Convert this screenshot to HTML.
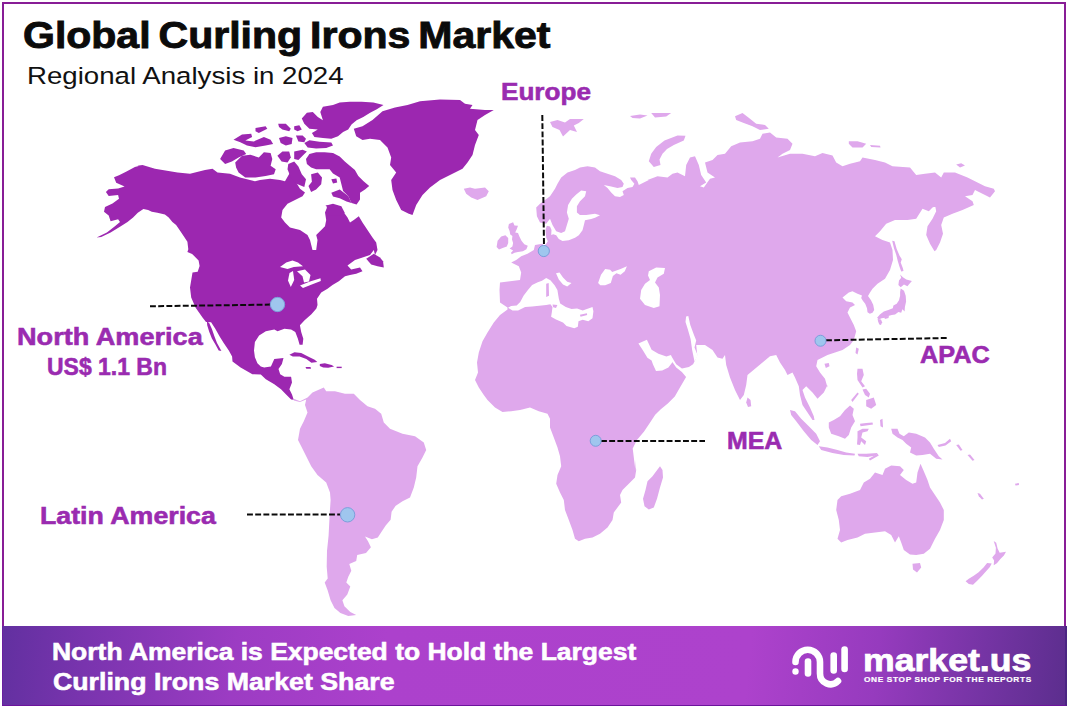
<!DOCTYPE html>
<html><head><meta charset="utf-8"><title>Global Curling Irons Market</title>
<style>
html,body{margin:0;padding:0;background:#fff;}
body{width:1068px;height:712px;position:relative;overflow:hidden;font-family:"Liberation Sans",sans-serif;}
#frame{position:absolute;left:2px;top:2px;width:1060px;height:699.7px;border:2px solid #881d96;box-sizing:content-box;}
#footer{position:absolute;left:2px;top:626px;width:1064.8px;height:79.7px;box-sizing:border-box;border-right:2.5px solid #4b2583;border-bottom:1.8px solid #6c149c;border-left:1.5px solid #6a1fa0;background:linear-gradient(96deg,#6230a0 0%,#7934ae 8%,#9c3cc3 22%,#ac41cc 36%,#ad42cc 70%,#963bbe 82%,#7534a4 92%,#5c2e8e 100%);}
svg{position:absolute;left:0;top:0;}
.tx{position:absolute;white-space:nowrap;line-height:1;transform-origin:0 0;}
#t12{letter-spacing:0.6px;}
#t1{word-spacing:-3px;}
</style></head><body>
<div id="frame"></div>
<svg width="1068" height="712" viewBox="0 0 1068 712">
<polygon points="293.8,398.8 300,401.2 307.5,397.5 312.5,392.5 323.8,387.5 326.2,391.2 335,391.2 345,393.8 353.8,393.8 360,400 367.5,406.2 375,408.8 381.2,413.8 383.8,422.5 390,428.8 402.5,433.8 415,436.2 423.8,442.5 426.2,450 422.5,457.5 417.5,466.2 416.2,477.5 413.8,487.5 410,497.5 402.5,501.2 395,506.2 395.5,505.9 391.6,511.8 390.6,519.7 385.7,525.6 381.7,531.5 377.8,537.4 371.9,539.3 365,536.4 368,541.3 370.9,547.2 366,553 357.2,555 356.2,561 349.3,563.9 351.3,570.8 348.3,576.7 346.3,582.6 350.3,586.5 347.3,594.4 342.4,600.3 344.4,606.2 350.3,612 356.2,615 348.3,616 340.4,613 334.5,608.1 330.6,600.3 327.7,590.4 324.7,582.6 327.7,578.6 326.7,566.8 327,551 328.6,535.4 329.6,515.7 330.6,500 330,492.5 326.2,482.5 317.5,475 311.2,466.2 306.2,456.2 301.2,446.2 298,440 300,428.8 303.8,421.2 307.5,412.5 305,405 306.2,399.5 300,402 293.8,400.5" fill="#dfa8ec"/>
<polygon points="507.5,307.5 500,302.5 499.5,290 500,282.5 510,281.2 520,280 521.2,272.5 518.8,266.2 511.2,262.5 516.2,260 521.2,256.2 527.5,253.8 533.8,250 535,245 542.5,243.8 543.8,246.2 546,244 547.8,241.2 546.2,237.5 545.5,230 546.8,225.8 550,226.5 551.5,230 551.2,235 553.2,234.2 556.2,235.2 558.8,239 562.5,240.9 568.8,240.2 575,237.8 578.8,235.2 582.5,230.2 583.8,225.2 585,220.2 591.2,219 595,217.8 600,215.2 595,213.8 586.2,215 580,215 576.9,212.5 576.9,206.2 580,201.2 585,196.2 586.2,191.2 581.2,190.6 576.2,194.4 571.9,198.8 568.1,205 566.9,212.5 568.8,218.8 566.9,225 565,231.2 561.2,233.1 556.2,231.2 552.5,225 550,218.8 546.2,223.8 540,222.5 536.9,216.2 536.2,207.5 540,203.8 545,200 550,196.2 555,188.8 557.5,183.8 561.2,177.5 567.5,172.5 575,170 580,167.5 587.5,166.2 595,167.5 600,171.2 607.5,173.8 615,176.2 621.2,180 623.8,183.8 622.5,186.9 617.5,188.1 610,186.2 603.8,185 607.5,188.1 611.2,192.5 615,196.2 620,196.9 623.8,195 622.5,191.2 627.5,188.1 632.5,186.9 634.4,183.8 631.2,180 630,177.5 635,177.5 637.5,181.2 638.8,185 643.8,182.5 648.8,180 647.5,180 657.5,176.2 667.5,177.5 672.5,173.8 677.5,172.5 685,176.2 686.2,165 690,157.5 695,156.2 698.8,165 701.2,175 706.2,182.5 700,186.2 703.8,187.5 710,178.8 715,177.5 707.5,172.5 705,162.5 712.5,160 717.5,155 725,153.8 731.2,146.2 740,142.5 752.5,141.2 760,138.8 762.5,133.8 770,132.5 776.2,137.5 787.5,138.8 792.5,143.8 790,150 782.5,153.8 777.5,157.5 790,153.8 802.5,153.8 815,156.2 822.5,153 832.5,155.5 836.2,162.5 842.5,166.2 850,163.8 860,161.2 862.5,157.5 875,160 885,162.5 892.5,166.2 910,167.5 916.2,175 925,173.8 935,172.5 941.2,177.5 943.8,172.5 955,172.5 967.5,177.5 977.5,182.5 985,186.2 993.8,188.8 995,191.2 990,197.5 982.5,193.8 975,190 972.5,195 965,196.2 972.5,201.2 973.8,205 962.5,210 952.5,213.8 943.8,217.5 941.2,225 943,233.8 940,242.5 936.2,250 934.5,251.2 930,243.8 926.2,235 927.5,226.2 932.5,218.8 936.2,211.2 935,205 938.8,205 932.5,207.5 928.8,211.2 922.5,208.8 916.2,218.8 907.5,220 895,220 886.2,223.8 880,231.2 875,236.2 882.5,240 890,242.5 892.5,250 893,260 890,270 893,260 890,270 885,278.8 877.5,283.8 872.5,288.8 870,292.5 868,296 871,300.2 873.2,304.8 874.2,310 872.5,312.8 869.8,313.8 867.5,312.2 867,308.2 865.2,303.8 863,301 861.2,298 862,295.5 857.5,293.8 852.5,291.2 848.8,292.5 842.5,297.5 846.2,301.2 852.5,302.5 855,305 850,307.5 847.5,312.5 850,317.5 853.8,325 856.2,331.2 853.8,340 850,345 842.5,350 835,352.5 827.5,355 822.5,357.5 817.5,360 816.2,366.2 820,372.5 825,378.8 827.5,387.5 827.5,385 823.8,392.5 817.5,398.8 812.5,392.5 806.2,386.2 802.5,390 805,397.5 810,407.5 813.8,416.2 814.5,420 812.5,420 807.5,412.5 802.5,405 800,395 798.8,386.2 795,377.5 792.5,372.5 787.5,375 785,370 780,362.5 776.2,355 770,356.2 762.5,362.5 755,368.8 747.5,375 746.2,385 743.8,395 740,400 735,390 730,377.5 726.2,365 725,355 722.5,358.8 717.5,357.5 712.5,350 705,345 696.2,345 697.3,355.8 693.1,364.3 688.9,367.1 681.9,368.5 676.2,364.3 672,357.2 670.6,355.8 672,361.5 676.2,367.6 681.9,372.1 686.1,376.9 680.4,386.7 674.8,396.6 667.8,403.6 660.8,409.2 655.2,414.8 649.6,423.3 643.9,431.7 636.9,440.1 632.7,448.5 634.1,459.8 635.5,471 635,460 636.2,470 635,477.5 628.8,483.8 622.5,490 620,495 621.2,502.5 617.5,507.5 613.8,512.5 612.5,520 607.5,527.5 600,533.8 592.5,537.5 585,538.8 578.8,541.2 575,538.8 572.5,530 568.8,520 565,510 563.8,500 560,492.5 556.2,483.8 557.5,475 561.2,466.2 560,456.2 557.5,447.5 553.8,437.5 550,427.5 550,418.8 547.5,413.8 538.8,411.2 530,407.5 520,410 511.2,411.2 502.5,412 495,407.5 487.5,400 483.8,395 478.8,387.5 475,380 478,372.5 477,362.5 478.8,352.5 482.5,341.2 487.5,332.5 493.8,322.5 500,315 507.5,309.5" fill="#dfa8ec"/>
<polygon points="463.8,188.8 470,187.5 475,188.8 485,187.5 488.8,191.2 486.2,196.2 477.5,200 471.2,197.5 466.2,193.8" fill="#dfa8ec"/>
<polygon points="508.9,224 513.1,222.2 514.5,225.4 518,225.7 516.6,229.6 515.2,232.4 518,233.1 519.4,236.6 521.5,240.8 524.3,244.3 527.8,245.7 526.4,249.2 522.9,251.3 518,252.1 514.5,252.8 511.7,254.2 511,252.8 513.1,250.6 509.6,248.5 512.4,246.4 513.1,242.9 512,239.4 512.4,235.9 510.3,234.5 509.6,231 508.2,227.5" fill="#dfa8ec"/>
<polygon points="496.6,247.1 497.6,240.8 501.2,236.6 505.4,235.2 508.2,238 508.2,242.9 506.8,246.4 503.3,247.8 499,249.6" fill="#dfa8ec"/>
<polygon points="550,122 557.5,120 565,122.5 570,119 583.8,119 578.8,123 573.8,125.5 577,132 570,130 563,136.5 559.5,130 552.5,127" fill="#dfa8ec"/>
<polygon points="630,116 640,114.5 647.5,115.5 640,118.5 632.5,118" fill="#dfa8ec"/>
<polygon points="651.2,113 671.2,113 666.2,116.5 655,117.5" fill="#dfa8ec"/>
<polygon points="648.8,161.2 651.2,153.8 656.2,147 664.5,140.5 677.5,135.5 685.5,135.8 683.8,140.5 673.8,145 667,149 662.5,153.8 659.5,159.5 660.5,165 653.8,167" fill="#dfa8ec"/>
<polygon points="735,116.2 742.5,113 750,118.8 756.2,123.8 765,125 768.8,128.8 760,130 752.5,126.2 742.5,122.5 736.2,120" fill="#dfa8ec"/>
<polygon points="848.8,141.2 857.5,141.2 866.2,143.8 862.5,147.5 852.5,147.5 848.8,143.8" fill="#dfa8ec"/>
<polygon points="870,145 880,145.8 880.5,147.5 871.2,147" fill="#dfa8ec"/>
<polygon points="956.2,164.5 961.2,163.2 965,165.5 960,167.5" fill="#dfa8ec"/>
<polygon points="892.2,240.7 894.5,241.2 896.7,249.1 899.6,255.8 901.8,259.2 900.7,262.6 902.9,268.2 903.5,271 901.2,271.6 899.6,267.1 897.9,261.5 896.2,254.7 893.9,248" fill="#dfa8ec"/>
<polygon points="900.1,274.4 902.9,277.2 906.3,279.4 911.9,281.1 909.7,283.4 907.4,286.2 904,284.5 900.7,287.3 898.4,285.1 899,280.6 901.2,277.8" fill="#dfa8ec"/>
<polygon points="900.7,288.5 904,290.8 905.7,295.8 906.1,301.5 904.9,307.1 904.6,311.6 902.4,309.3 901.2,312.7 898.4,312.1 895.1,314.4 891.7,314.9 888.3,316.1 884.9,317.8 881.6,318.3 878.8,319.4 877.1,317.8 879.9,314.4 883.8,311.6 888.3,309.9 892.8,308.2 893.4,305.4 896.7,303.7 899,300.3 900.1,295.8 900.1,291.9" fill="#dfa8ec"/>
<polygon points="877.6,318.9 881,319.4 882.1,322.2 881,325.1 879.3,324.5 878.2,321.7" fill="#dfa8ec"/>
<polygon points="884.4,317 888.9,315.8 888.5,318 884.9,319.1" fill="#dfa8ec"/>
<polygon points="856.2,347.5 858.8,348.8 857.5,354.5 855.5,353" fill="#dfa8ec"/>
<polygon points="824.5,363.8 828.8,363 829.5,366.2 825.8,368" fill="#dfa8ec"/>
<polygon points="747.5,397.5 750.5,400 751.2,406.2 748,407 746.2,402.5" fill="#dfa8ec"/>
<polygon points="857.5,368.8 862.5,368.8 863.8,375 861.2,381.2 865,386.2 862.5,387.5 857.5,380 857,373.8" fill="#dfa8ec"/>
<polygon points="866.2,400 873.8,397.5 876.2,405 871.2,408.8 866.2,406.2" fill="#dfa8ec"/>
<polygon points="862.5,389.5 866.2,388.8 870,393.8 868.8,397.5 865,395" fill="#dfa8ec"/>
<polygon points="851.2,400 857.5,392.5 858.8,393.8 852.5,402" fill="#dfa8ec"/>
<polygon points="828.8,422.5 833.8,420 840,416.2 845,410 850,405.5 853.8,408.8 852.5,415 855,421.2 851.2,427.5 848.8,435 845,438.8 838.8,436.2 831.2,433.8 828.8,427.5" fill="#dfa8ec"/>
<polygon points="790,410 795,411.2 801.2,418.8 808.8,426.2 816.2,433.8 820,441.2 817.5,445 811.2,440 803.8,431.2 796.2,421.2 791.2,415" fill="#dfa8ec"/>
<polygon points="818.8,446.2 827.5,447.5 837.5,450 846.2,452.5 855,453.8 854.5,455.5 843.8,455 832.5,453 821.2,450" fill="#dfa8ec"/>
<polygon points="857.5,453.8 866.2,453.8 877.5,453 876.2,455.5 867.5,457 858.8,456.2" fill="#dfa8ec"/>
<polygon points="868.8,458.8 877.5,453.8 878.8,455.5 870,460.5" fill="#dfa8ec"/>
<polygon points="857.5,431.2 862.5,428.8 868.8,428.8 867.5,431.2 862.5,432.5 861.2,437.5 866.2,441.2 865,445 861.2,441.2 860,445 857,444.5 857.5,437.5" fill="#dfa8ec"/>
<polygon points="860,423.8 866.2,423 872.5,422.5 873,424.5 866.2,425.5 860.5,426.2" fill="#dfa8ec"/>
<polygon points="880,420 882.5,418.8 883,427.5 880.5,426.2" fill="#dfa8ec"/>
<polygon points="891.2,428.8 897.5,428.8 899.5,433.8 903.8,436.2 908.8,432.5 916.2,433.8 925,437.5 930,442.5 933.8,448.8 938.8,456.2 942.5,459.5 936.2,458.8 930,453.8 922.5,455 916.2,455.5 910,452.5 911.2,447.5 906.2,443.8 902.5,440 897.5,437.5 892.5,433.8" fill="#dfa8ec"/>
<polygon points="937.5,445 945,443 950,438.8 951.2,441.2 945.5,445.5 938.8,447" fill="#dfa8ec"/>
<polygon points="956.2,445 958.8,444.5 962.5,450 960.5,450.8" fill="#dfa8ec"/>
<polygon points="967.5,455 970,454.5 974.5,460 972.5,460.8" fill="#dfa8ec"/>
<polygon points="977.5,493 980,493.8 983.8,498.8 982,499.5 978.8,496.2" fill="#dfa8ec"/>
<polygon points="1015,483.8 1018.8,483 1019,485 1015.5,485.5" fill="#dfa8ec"/>
<polygon points="837.5,500 841.2,496.2 850,493.8 860,490 863.8,482.5 870,478.8 875,472.5 882.5,475 885,468.8 891.2,465.5 900,466.2 903.8,470 900,475 906.2,480 912.5,483.8 916.2,482.5 917.5,472.5 920.5,463.8 923.8,471.2 927.5,480 930,487.5 935,495 940,502.5 943.8,510 943.8,520 940,530 935,538.8 930,548.8 923.8,553.8 916.2,555 910,554.5 903.8,550 901.2,542.5 898.8,536.2 895,542.5 891.2,535 885,531.2 875,532.5 865,533.8 857.5,537.5 847.5,540 841.2,542.5 837.5,538.8 840,530 838.8,520 836.2,510" fill="#dfa8ec"/>
<polygon points="912.5,563.8 920,563 921.2,567.5 917,572.5 913,569.5" fill="#dfa8ec"/>
<polygon points="965.6,581.2 968.8,578.7 973.7,575.8 978.6,572.3 983.5,567.4 987.1,562.9 991.7,563.5 989.9,567.1 986.3,570.9 982.1,575.8 977.2,580.8 973,584.7 968.8,584" fill="#dfa8ec"/>
<polygon points="993.7,541 996.2,542.8 997.6,548.5 999.7,552.7 1006,551.7 1003.9,555.5 1000.4,559 996.9,563.2 993.7,565.3 994.1,560.4 992.2,557.6 995.5,553.4 995.9,547.8" fill="#dfa8ec"/>
<polygon points="660,466.2 662.5,470 663,477.5 660,487.5 657,498.8 653.8,507.5 648.8,509.5 644.5,506.2 643,498.8 645.5,490 647.5,481.2 652.5,476.2 656.2,471.2" fill="#dfa8ec"/>
<polygon points="142.4,165 134.9,166.9 126.5,171.5 119,175.3 114,177.2 116.2,182.8 124.6,186.5 118.1,188.4 108.7,189.3 105.9,192.1 108.7,195.9 118.1,194.9 119,198.7 112.5,203.4 105,207.1 104,211.8 108.7,215.5 110.6,221.2 118.1,219.3 120,222.1 114.3,226.8 106.9,232.4 96.6,237.6 101.2,237.1 110.6,232.4 120,226.8 127.5,222.1 133.1,217.4 137.8,212.7 143.4,209 148.1,209.9 151.8,211.8 157.4,212.7 164.9,214.6 168.7,217.4 172.4,222.1 176.1,224.9 179.9,230.5 183.6,236.1 187.4,241.8 188.3,249.3 187.4,252.1 192.1,253.9 198.6,260.5 199.6,266.1 197.7,271.7 192.5,272.5 190,287.5 191.2,297.5 195.5,307.5 202.5,317.5 206,321.9 211.1,322.2 215.3,328.7 219.5,336.2 223.7,343 228.8,350.6 232.1,356.5 232.5,361.5 240.6,367.4 252.4,374.2 260.8,374.5 265.8,379.2 274.3,384.3 281,389.3 286.1,394.4 291.1,399.4 293.7,399.8 292,394.4 289.4,389.3 292,382.6 291.1,376.7 284.4,376.7 280.2,374.2 278.5,369.1 281.9,364 283.5,358.1 274.3,359 270.9,366.6 264.2,367.4 260.8,366.6 257.4,363.2 254.9,357.3 254,350.6 254.9,342.1 259.1,335.4 265.8,331.2 274.3,329.5 277.6,331.2 284.4,328.7 291.1,329.5 295.3,332 297.9,338.8 299.6,344.7 302.6,344.7 303.3,338.8 301.2,332 299.9,325.3 304.6,320.2 311.4,314.3 316.4,308.4 317.5,305 317,298.8 321.2,292.5 327.5,288.8 332.5,285 338.8,281.2 345,276.2 350,275 356.2,273.8 362.5,271.2 360,267.5 351.2,269.5 347.5,265.5 355,260 362.5,257.5 370,255 373.8,250 375,255 377.5,250 376.2,242.5 372.5,237.5 367.5,230 362.5,222.5 358.8,216.2 353.8,220 350,222.5 347.5,217.5 341.2,208.8 332.5,206.2 325,205 327.5,206.2 325,212.5 326.2,220 325,226.2 320,231.2 316.2,235 317.5,240 316.2,250 312.5,250 310,240 307.5,235 300,230 290,227.5 285,222.5 281.2,217.5 282.5,210 287.5,203.8 295,200 302.5,196.2 305,192.5 300,188.8 296.2,182.5 295,173.8 290,172.5 285,181.2 280,180 270,178.8 260,180 255,181.2 240,177.5 230,173.8 217.5,172.5 212.5,168.8 205,170 190,173.8 177.5,172.5 155,168.8 142.5,165 130,167.5" fill="#9c27b0"/>
<polygon points="206.9,321.6 209.2,322.9 211.9,329 214.4,336.2 217,343 221.4,350.9 218.7,350.6 215.3,344.2 211.9,338.4 209.2,331.7 207.2,325.3" fill="#9c27b0"/>
<polygon points="366.2,258.8 373.8,253.8 380,257.5 383,261.2 383.8,267.5 377.5,266.2 371.2,264.5" fill="#9c27b0"/>
<polygon points="289.4,354.8 294.5,352.3 301.2,353.1 308,356.5 314.7,359.8 317.3,362 311.4,362.7 306.3,359 299.6,356.5 292.8,356.5" fill="#9c27b0"/>
<polygon points="319.8,364 324.8,363.2 331.6,364.9 334.1,366.6 328.2,367.8 323.2,367.4 319.8,366.1" fill="#9c27b0"/>
<polygon points="305.5,367.1 310.5,367.1 311,368.8 306.3,368.8" fill="#9c27b0"/>
<polygon points="336.6,366.7 341.7,366.7 341.7,368.1 336.6,368.1" fill="#9c27b0"/>
<polygon points="220.1,159 225.1,150.6 233.5,148.1 243.7,150.6 246.2,154 238.6,157.4 231.9,161.6 225.1,164.1" fill="#9c27b0"/>
<polygon points="235.2,162.4 242,155.7 250.4,154.8 258.8,157.4 263.9,152.3 270.6,153.1 272.3,159 270.6,165.8 275.7,169.2 274,174.2 265.6,175.9 255.5,177.6 245.3,177.6 238.6,172.5 236.1,167.5" fill="#9c27b0"/>
<polygon points="233.5,139.7 242,134.6 251.2,133.8 252.1,137.1 245.3,140.5 253.8,141.4 263.9,137.1 270.6,139.7 273.1,143.9 265.6,145.6 255.5,147.3 247,145.6 240.3,142.2" fill="#9c27b0"/>
<polygon points="255.5,127.9 265.6,126.2 267.3,128.7 258.8,132.9 255.5,131.2" fill="#9c27b0"/>
<polygon points="278.2,123.7 285.8,123.7 290.8,128.7 289.2,131.2 282.4,129.6 279,127" fill="#9c27b0"/>
<polygon points="294.2,126.2 299.3,125.3 301.8,129.6 297.6,131.2 294.2,129.6" fill="#9c27b0"/>
<polygon points="279,138 285.8,136.3 292.5,138 291.7,143.9 285.8,145.6 280.7,143" fill="#9c27b0"/>
<polygon points="295.9,135.5 302.6,135.5 306,138.8 304.3,142.2 298.4,141.4" fill="#9c27b0"/>
<polygon points="304.3,143 309.4,140.2 319.5,141.7 331.3,142.5 333,145.6 326.2,148.1 316.1,148.6 307.7,147.6" fill="#9c27b0"/>
<polygon points="301.8,118.6 306.9,112.7 312.8,111.9 317.8,116.9 322.9,120.3 320.3,111.9 322.9,106.8 333,105.1 339.7,102.6 349.8,101.7 361.6,101.7 373.4,102.6 383.5,105.1 376.8,109.3 370.1,112.7 363.3,116.9 356.6,120.3 351.5,124.5 348.2,129.6 343.1,132.1 338,136.3 331.3,138.8 322.9,138 314.4,137.1 311.9,132.9 317.8,129.6 309.4,128.7 304.3,123.7" fill="#9c27b0"/>
<polygon points="277.4,155.7 282.4,151.5 289.2,151.5 290.8,157.4 287.5,162.4 281.6,161.6" fill="#9c27b0"/>
<polygon points="294.2,151.5 302.6,149.8 306.9,151.5 302.6,155.7 298.4,159.9 294.2,159" fill="#9c27b0"/>
<polygon points="288.3,164.1 294.2,161.6 298.4,166.6 301.8,174.2 306,179.3 304.3,186.9 295.9,183.5 290.8,177.6 287.5,169.2" fill="#9c27b0"/>
<polygon points="306,159 309.4,154 316.1,152.3 324.6,152.3 333,153.1 339.7,156.5 344.8,161.6 349.8,165.8 354.9,170 358.3,175.9 363.3,181 369.2,186 365,189.4 360,192.8 360,199.5 356.6,204.6 351.5,202.9 348.2,196.1 343.1,191.1 341.4,184.3 339.7,177.6 333,173.4 329.6,169.2 322.9,169.2 316.1,169.2 311.1,167.5 306.9,164.1" fill="#9c27b0"/>
<polygon points="331.3,192.8 339.7,189.4 348.2,196.1 351.5,202.9 346.5,201.5 339.7,198.2 333,196.5" fill="#9c27b0"/>
<polygon points="311.1,174.2 317.8,172.5 322,177.6 321.2,184.3 316.1,189.4 311.1,191.9 308.5,186 311.9,181.8" fill="#9c27b0"/>
<polygon points="326.2,205.4 333,203.7 341.4,206.2 344.8,213 339.7,215.7 329.6,215.7" fill="#9c27b0"/>
<polygon points="331.3,179.3 336.4,178.4 337.2,182.6 333,183.5" fill="#9c27b0"/>
<polygon points="353.8,128.8 362.5,126.2 372.5,120 382.5,111.2 395,107.5 407.5,105 420,101.2 440,99.5 460,100 465,103.8 472.5,105 470,108.8 485,110 493.8,110 485,115 477.5,120 475,130 478.8,135 475,145 472.5,155 467.5,162.5 462.5,168.8 455,172.5 447.5,176.2 440,180 430,187.5 422.5,195 416.2,205 412.5,215 408.8,213.8 401.2,210 396.2,200 392.5,190 391.2,180 396.2,172.5 390,165 391.2,157.5 387.5,147.5 380,140 370,138.8 362.5,140 356.2,136.2" fill="#9c27b0"/>
<polygon points="280,267 286.2,262.5 292.5,260.5 298,262.5 303,266.2 293.8,267 287.5,269" fill="#fff"/>
<polygon points="289.5,273 293,271 294.2,280 290.8,287 288,280.5" fill="#fff"/>
<polygon points="297,271.2 305,269.5 310.5,275 309,281.5 304,282.5 302.5,276.2" fill="#fff"/>
<polygon points="300,285.5 310,281.5 320.5,278.2 320.8,281 310.5,285 303,288" fill="#fff"/>
<polygon points="508,307.8 512.5,310.6 518.1,310.6 525.1,307.1 532.1,306.4 539.2,305.7 546.2,305 550.4,304.3 552.5,307 551.8,312.6 551.1,316.8 556,319.6 563,322.4 566.5,325.9 574.3,328.2 577.8,326.8 578.5,321.2 582.7,319.7 588.3,321.2 592.5,318.3 593.4,311.2 592.5,307 588.3,308.4 582.7,310.5 577.1,308.4 571.5,309.1 565.8,307 560.2,303.5 558.8,298.5 557.4,290.1 554.6,285.2 550.4,280.3 546.2,278 542,280.8 537.8,282.2 532.1,285.1 527.9,290 523.7,295.6 520.2,301.9 516.7,305.4 511.1,306.1" fill="#fff"/>
<polygon points="556,273.3 559.5,272.6 563,277.5 567.2,281.7 571.5,283.1 567.2,286.6 563,284.5 558.8,279.6" fill="#fff"/>
<polygon points="598.1,283.1 601,274.7 605.2,269 610.1,269.7 612.2,271.9 620.6,269 626.9,266.2 624.8,271.2 620.6,274.7 616.4,273.3 612.9,276.1 610.8,283.1 605.2,285.2 600.3,285.2" fill="#fff"/>
<polygon points="648.8,271.2 656.2,267.5 665,268 663.8,273.8 657.5,277.5 655,282.5 658.8,287.5 660,295 659.5,306.2 653.8,308 645,305 640,298.8 641.2,290 645,283.8 650,280 648,275.5" fill="#fff"/>
<polygon points="638.4,343.4 646.9,339.8 651.6,349.8 658.4,353.8 666.4,356.4 671,355 673,361.5 668.4,367.6 662.2,370.6 656,371 653,364.6 651.6,360.6 647.4,357.8 643,350.6" fill="#fff"/>
<polygon points="686.1,316.5 688.3,316 690.3,324.9 693.9,334.8 696.2,340.4 694.5,347.4 697.9,355.8 694.5,361.5 692.2,350.2 690.6,339 687.8,329.2 685.5,322.1" fill="#fff"/>
<polygon points="546.2,283.8 548.7,283.1 549,295.7 546.2,297.1" fill="#dfa8ec"/>
<polygon points="552.5,304.4 557.4,305 556,308.1 553.2,307.2" fill="#dfa8ec"/>
<polygon points="579.9,314.7 586.9,313.3 587.2,315.1 580.6,316.8" fill="#dfa8ec"/>
<line x1="542.3" y1="115" x2="544" y2="246" stroke="#0a0a0a" stroke-width="2" stroke-dasharray="5.9 2.3"/>
<line x1="150" y1="306.3" x2="270" y2="304.6" stroke="#0a0a0a" stroke-width="2" stroke-dasharray="5.9 2.3"/>
<line x1="247" y1="514.4" x2="340" y2="514.4" stroke="#0a0a0a" stroke-width="2" stroke-dasharray="5.9 2.3"/>
<line x1="601" y1="441" x2="705" y2="441" stroke="#0a0a0a" stroke-width="2" stroke-dasharray="5.9 2.3"/>
<line x1="826" y1="340.3" x2="947" y2="338" stroke="#0a0a0a" stroke-width="2" stroke-dasharray="5.9 2.3"/>
<circle cx="543.8" cy="251" r="5.6" fill="#9fc6ee" stroke="#7d9edb" stroke-width="1"/>
<circle cx="277.5" cy="304.5" r="7.2" fill="#9fc6ee" stroke="#7d9edb" stroke-width="1"/>
<circle cx="347.6" cy="514.8" r="7.2" fill="#9fc6ee" stroke="#7d9edb" stroke-width="1"/>
<circle cx="595.7" cy="440.8" r="5.5" fill="#9fc6ee" stroke="#7d9edb" stroke-width="1"/>
<circle cx="820.5" cy="340.75" r="5.5" fill="#9fc6ee" stroke="#7d9edb" stroke-width="1"/>
</svg>
<div id="footer"></div>
<svg width="1068" height="712" viewBox="0 0 1068 712">
<g fill="none" stroke="#fff" stroke-width="6.6" stroke-linecap="round">
<path d="M795.5,662 A12.25,12.25 0 0 1 820,662 L820,673.5 A10.5,10.5 0 0 0 838,681"/>
<path d="M808,661.5 L808,673.5"/>
<path d="M833.7,655.5 L833.7,670.5"/>
<path d="M844.6,649.5 L844.6,669"/>
</g><circle cx="795.5" cy="671.5" r="3.2" fill="#fff"/>
</svg>
<div class="tx" id="t1" style="left:22.80px;top:17.86px;font-size:36.31px;font-weight:bold;color:#0b0b0b;-webkit-text-stroke:0.87px #0b0b0b;transform:scaleX(1.1296)">Global Curling Irons Market</div>
<div class="tx" id="t2" style="left:26.50px;top:64.66px;font-size:23.32px;font-weight:normal;color:#111;-webkit-text-stroke:0.00px #111;transform:scaleX(1.1859)">Regional Analysis in 2024</div>
<div class="tx" id="t3" style="left:500.80px;top:79.95px;font-size:24.16px;font-weight:bold;color:#9a2bb0;-webkit-text-stroke:0.58px #9a2bb0;transform:scaleX(1.0808)">Europe</div>
<div class="tx" id="t4" style="left:17.00px;top:325.60px;font-size:23.74px;font-weight:bold;color:#9a2bb0;-webkit-text-stroke:0.57px #9a2bb0;transform:scaleX(1.1420)">North America</div>
<div class="tx" id="t5" style="left:47.00px;top:355.60px;font-size:23.74px;font-weight:bold;color:#9a2bb0;-webkit-text-stroke:0.57px #9a2bb0;transform:scaleX(0.9672)">US$ 1.1 Bn</div>
<div class="tx" id="t6" style="left:40.45px;top:504.05px;font-size:24.16px;font-weight:bold;color:#9a2bb0;-webkit-text-stroke:0.58px #9a2bb0;transform:scaleX(1.1069)">Latin America</div>
<div class="tx" id="t7" style="left:726.95px;top:429.07px;font-size:24.02px;font-weight:bold;color:#9a2bb0;-webkit-text-stroke:0.58px #9a2bb0;transform:scaleX(1.0354)">MEA</div>
<div class="tx" id="t8" style="left:920.00px;top:343.35px;font-size:24.16px;font-weight:bold;color:#9a2bb0;-webkit-text-stroke:0.58px #9a2bb0;transform:scaleX(1.0464)">APAC</div>
<div class="tx" id="t9" style="left:51.90px;top:640.80px;font-size:23.74px;font-weight:bold;color:#fff;-webkit-text-stroke:0.57px #fff;transform:scaleX(1.1149)">North America is Expected to Hold the Largest</div>
<div class="tx" id="t10" style="left:52.90px;top:671.40px;font-size:23.74px;font-weight:bold;color:#fff;-webkit-text-stroke:0.57px #fff;transform:scaleX(1.1258)">Curling Irons Market Share</div>
<div class="tx" id="t11" style="left:862.50px;top:644.62px;font-size:31.40px;font-weight:bold;color:#fff;-webkit-text-stroke:0.75px #fff;transform:scaleX(1.1344)">market.us</div>
<div class="tx" id="t12" style="left:864.00px;top:675.80px;font-size:7.80px;font-weight:bold;color:#fff;-webkit-text-stroke:0.19px #fff;transform:scaleX(1.0636)">ONE STOP SHOP FOR THE REPORTS</div>
</body></html>
